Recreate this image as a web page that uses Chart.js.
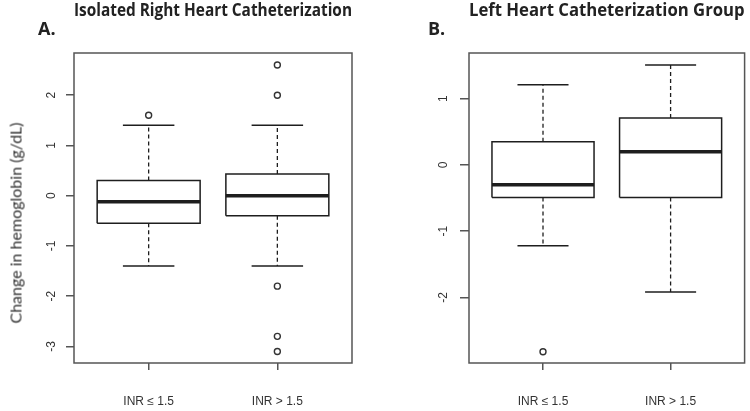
<!DOCTYPE html>
<html>
<head>
<meta charset="utf-8">
<script src="https://cdn.jsdelivr.net/npm/chart.js@4"></script>
<style>
  body { margin: 0; background: #fff; }
  #wrap { position: relative; width: 750px; height: 411px; overflow: hidden; }
  canvas { position: absolute; top: 0; }
  .panel { position: absolute; top: 28px; transform: translateY(-50%); font: bold 18px "Open Sans", sans-serif; color: #222; }
  #ylab { position: absolute; left: 15px; top: 223px; transform: translate(-50%, -50%) rotate(-90deg);
          white-space: nowrap; font-family: Lato, sans-serif; font-size: 16px; font-weight: 400; color: #333; }
</style>
</head>
<body>
<div id="wrap">
  <canvas id="rhc" width="375" height="411" style="left:0"></canvas>
  <canvas id="lhc" width="375" height="411" style="left:375px"></canvas>
  <div class="panel" style="left:38px">A.</div>
  <div class="panel" style="left:428px">B.</div>
  <div id="ylab">Change in hemoglobin (g/dL)</div>
</div>
<script>
const groups = ['INR ≤ 1.5', 'INR > 1.5'];

// Isolated right heart catheterization
const rhcLow = [-1.4, -1.4];
const rhcQ1 = [-0.55, -0.4];
const rhcMedian = [-0.12, 0];
const rhcQ3 = [0.3, 0.43];
const rhcHigh = [1.4, 1.4];
const rhcOutliers = [[1.6], [2.6, 2.0, -1.8, -2.8, -3.1]];
const rhcTicks = [-3, -2, -1, 0, 1, 2];

// Left heart catheterization
const lhcLow = [-1.22, -1.92];
const lhcQ1 = [-0.49, -0.49];
const lhcMedian = [-0.3, 0.2];
const lhcQ3 = [0.35, 0.71];
const lhcHigh = [1.21, 1.51];
const lhcOutliers = [[-2.82], []];
const lhcTicks = [-2, -1, 0, 1];

const ink = '#1e1e1e';
const frameColor = '#555';

function seg(points, width, dash) {
  return {
    type: 'scatter',
    showLine: true,
    data: points.map(p => ({ x: p[0], y: p[1] })),
    borderColor: ink,
    borderWidth: width,
    borderDash: dash || [],
    borderCapStyle: 'butt',
    borderJoinStyle: 'miter',
    pointRadius: 0,
    tension: 0
  };
}

function boxDatasets(low, q1, med, q3, high, outliers) {
  const ds = [];
  groups.forEach((g, i) => {
    const c = i + 1;
    ds.push(seg([[c, q3[i]], [c, high[i]]], 1.3, [4, 3]));
    ds.push(seg([[c, q1[i]], [c, low[i]]], 1.3, [4, 3]));
    ds.push(seg([[c - 0.2, high[i]], [c + 0.2, high[i]]], 1.5));
    ds.push(seg([[c - 0.2, low[i]], [c + 0.2, low[i]]], 1.5));
    ds.push(seg([[c - 0.4, q1[i]], [c + 0.4, q1[i]], [c + 0.4, q3[i]], [c - 0.4, q3[i]], [c - 0.4, q1[i]]], 1.5));
    ds.push(seg([[c - 0.4, med[i]], [c + 0.4, med[i]]], 3.5));
    ds.push({
      type: 'scatter',
      data: outliers[i].map(v => ({ x: c, y: v })),
      pointStyle: 'circle',
      pointRadius: 3,
      pointBorderWidth: 1.4,
      pointBorderColor: '#333',
      pointBackgroundColor: 'rgba(0,0,0,0)'
    });
  });
  return ds;
}

const framePlugin = {
  id: 'frame',
  beforeDatasetsDraw(chart) {
    const a = chart.chartArea;
    const ctx = chart.ctx;
    ctx.save();
    ctx.strokeStyle = frameColor;
    ctx.lineWidth = 1.5;
    ctx.strokeRect(a.left, a.top, a.right - a.left, a.bottom - a.top);
    ctx.restore();
  }
};

function makeChart(id, cfg) {
  return new Chart(document.getElementById(id), {
    type: 'scatter',
    data: { datasets: cfg.datasets },
    plugins: [framePlugin],
    options: {
      responsive: false,
      animation: false,
      events: [],
      layout: { padding: { left: 0, right: cfg.padRight, top: 0, bottom: 0 } },
      plugins: {
        legend: { display: false },
        tooltip: { enabled: false },
        title: {
          display: true,
          text: cfg.title,
          fullSize: false,
          color: '#222',
          font: { family: 'Open Sans', weight: 'bold', size: 18, lineHeight: 1.2 },
          padding: { top: 0.2, bottom: 31.2 }
        }
      },
      scales: {
        x: {
          type: 'linear',
          min: 0.42,
          max: 2.58,
          afterBuildTicks: s => { s.ticks = groups.map((g, i) => ({ value: i + 1 })); },
          afterFit: s => { s.height = 48; },
          border: { display: false },
          grid: { drawOnChartArea: false, drawTicks: true, tickLength: 7, color: frameColor, lineWidth: 1.5 },
          ticks: {
            autoSkip: false,
            maxRotation: 0,
            padding: 24,
            color: '#333',
            font: { family: 'Liberation Sans', size: 12 },
            callback: (v, i) => groups[i]
          }
        },
        y: {
          type: 'linear',
          min: cfg.yMin,
          max: cfg.yMax,
          afterBuildTicks: s => { s.ticks = cfg.yTicks.map(v => ({ value: v })); },
          afterFit: s => { s.width = cfg.axisWidth; },
          border: { display: false },
          grid: { drawOnChartArea: false, drawTicks: true, tickLength: cfg.tickLen, color: frameColor, lineWidth: 1.5 },
          ticks: {
            autoSkip: false,
            minRotation: 90,
            maxRotation: 90,
            crossAlign: 'center',
            padding: cfg.tickPad,
            color: '#333',
            font: { family: 'Liberation Sans', size: 12 },
            callback: v => String(v)
          }
        }
      }
    }
  });
}

makeChart('rhc', {
  title: 'Isolated Right Heart Catheterization',
  datasets: boxDatasets(rhcLow, rhcQ1, rhcMedian, rhcQ3, rhcHigh, rhcOutliers),
  yMin: -3.33, yMax: 2.84, yTicks: rhcTicks,
  axisWidth: 74, padRight: 23, tickLen: 8, tickPad: 9
});

makeChart('lhc', {
  title: 'Left Heart Catheterization Group',
  datasets: boxDatasets(lhcLow, lhcQ1, lhcMedian, lhcQ3, lhcHigh, lhcOutliers),
  yMin: -2.99, yMax: 1.69, yTicks: lhcTicks,
  axisWidth: 94, padRight: 5, tickLen: 9, tickPad: 11
});
</script>
</body>
</html>
